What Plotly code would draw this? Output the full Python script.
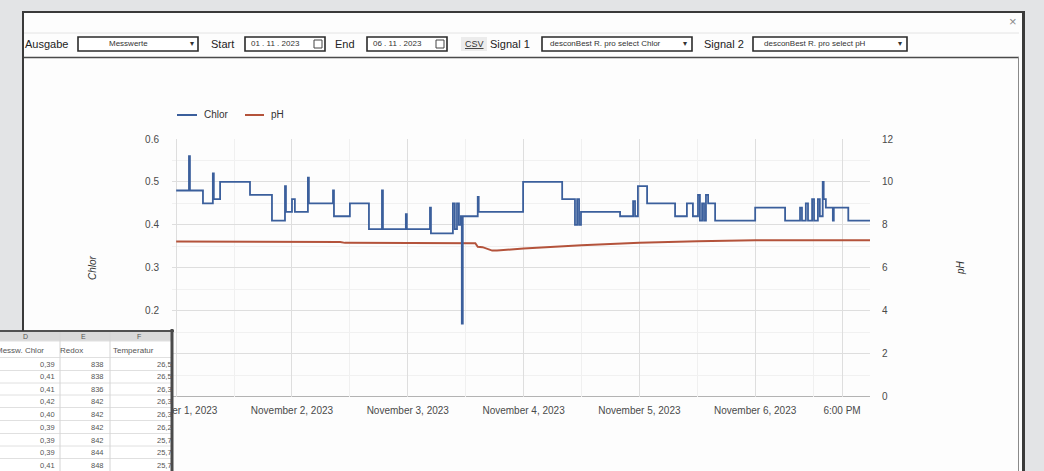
import plotly.graph_objects as go

# ---------------- data ----------------
chlor_time = [
    "2023-11-01 00:00", "2023-11-01 02:39", "2023-11-01 02:51", "2023-11-01 05:33",
    "2023-11-01 07:36", "2023-11-01 07:48", "2023-11-01 09:06", "2023-11-01 15:18",
    "2023-11-01 19:51", "2023-11-01 22:33", "2023-11-01 22:45", "2023-11-02 00:00",
    "2023-11-02 00:36", "2023-11-02 03:18", "2023-11-02 03:30", "2023-11-02 08:30",
    "2023-11-02 08:42", "2023-11-02 12:00", "2023-11-02 15:57", "2023-11-02 18:39",
    "2023-11-02 18:51", "2023-11-02 23:36", "2023-11-02 23:48", "2023-11-03 04:36",
    "2023-11-03 04:48", "2023-11-03 09:21", "2023-11-03 09:45", "2023-11-03 10:12",
    "2023-11-03 10:36", "2023-11-03 11:00", "2023-11-03 11:12", "2023-11-03 11:24",
    "2023-11-03 14:30", "2023-11-03 14:42", "2023-11-03 23:54", "2023-11-04 08:00",
    "2023-11-04 10:39", "2023-11-04 11:06", "2023-11-04 11:30", "2023-11-04 11:54",
    "2023-11-04 20:00", "2023-11-04 22:42", "2023-11-04 23:06", "2023-11-04 23:42",
    "2023-11-05 01:36", "2023-11-05 07:24", "2023-11-05 09:51", "2023-11-05 11:06",
    "2023-11-05 12:09", "2023-11-05 12:33", "2023-11-05 13:00", "2023-11-05 13:24",
    "2023-11-05 13:48", "2023-11-05 14:15", "2023-11-05 15:42", "2023-11-06 00:00",
    "2023-11-06 06:12", "2023-11-06 09:18", "2023-11-06 09:42", "2023-11-06 10:30",
    "2023-11-06 10:57", "2023-11-06 11:48", "2023-11-06 12:12", "2023-11-06 13:00",
    "2023-11-06 13:24", "2023-11-06 14:00", "2023-11-06 14:12", "2023-11-06 14:39",
    "2023-11-06 16:06", "2023-11-06 16:18", "2023-11-06 19:18", "2023-11-07 00:00",
]
chlor_value = [
    0.48, 0.56, 0.48, 0.45,
    0.52, 0.46, 0.50, 0.47,
    0.41, 0.49, 0.43, 0.46,
    0.43, 0.51, 0.45, 0.48,
    0.42, 0.45, 0.39, 0.48,
    0.39, 0.425, 0.39, 0.44,
    0.38, 0.45, 0.39, 0.45,
    0.40, 0.42, 0.17, 0.42,
    0.465, 0.43, 0.50, 0.46,
    0.40, 0.46, 0.40, 0.43,
    0.42, 0.455, 0.42, 0.49,
    0.45, 0.42, 0.45, 0.42,
    0.47, 0.41, 0.45, 0.41,
    0.47, 0.45, 0.41, 0.44,
    0.41, 0.44, 0.41, 0.45,
    0.41, 0.46, 0.41, 0.46,
    0.42, 0.50, 0.46, 0.44,
    0.41, 0.44, 0.41, 0.41,
]
ph_time = [
    "2023-11-01 00:00", "2023-11-02 10:00", "2023-11-02 11:00", "2023-11-03 12:30",
    "2023-11-03 14:00", "2023-11-03 14:30", "2023-11-03 15:30", "2023-11-03 17:30",
    "2023-11-03 18:30", "2023-11-04 00:00", "2023-11-04 12:00", "2023-11-05 00:00",
    "2023-11-05 12:00", "2023-11-06 00:00", "2023-11-07 00:00",
]
ph_value = [
    7.22, 7.20, 7.16, 7.16,
    7.14, 6.98, 6.96, 6.80,
    6.80, 6.90, 7.05, 7.16,
    7.24, 7.28, 7.28,
]

x_tick_vals = ["2023-11-01", "2023-11-02", "2023-11-03", "2023-11-04",
               "2023-11-05", "2023-11-06", "2023-11-06 18:00"]
x_tick_text = ["November 1, 2023", "November 2, 2023", "November 3, 2023",
               "November 4, 2023", "November 5, 2023", "November 6, 2023", "6:00 PM"]
x_minor_vals = ["2023-11-01 12:00", "2023-11-02 12:00", "2023-11-03 12:00",
                "2023-11-04 12:00", "2023-11-05 12:00", "2023-11-06 12:00"]
# 0 and 0.1 sit under the spreadsheet overlay in the picture, so their labels stay blank
chlor_ticks = [0, 0.1, 0.2, 0.3, 0.4, 0.5, 0.6]
chlor_tick_text = ["", "", "0.2", "0.3", "0.4", "0.5", "0.6"]
ph_ticks = [0, 2, 4, 6, 8, 10, 12]

sheet_letters = ["D", "E", "F"]
sheet_headers = ["Messw. Chlor", "Redox", "Temperatur"]
sheet_chlor = ["0,39", "0,41", "0,41", "0,42", "0,40", "0,39", "0,39", "0,39", "0,41"]
sheet_redox = ["838", "838", "836", "842", "842", "842", "842", "844", "848"]
sheet_temp = ["26,5", "26,5", "26,3", "26,3", "26,3", "26,2", "25,7", "25,7", "25,7"]

# ---------------- styling helpers ----------------
W, H = 1044, 471
FONT = "Liberation Sans, Arial, sans-serif"
BLUE = "#3b5f9c"
RED = "#b4533b"


def X(px):
    return px / W


def Y(py):
    return 1 - py / H


shapes = []
annotations = []


def rect(x0, y0, x1, y1, fill=None, line=None, lw=1, layer="below"):
    shapes.append(dict(type="rect", xref="paper", yref="paper",
                       x0=X(x0), x1=X(x1), y0=Y(y1), y1=Y(y0),
                       fillcolor=fill if fill else "rgba(0,0,0,0)",
                       line=dict(color=line if line else "rgba(0,0,0,0)", width=lw if line else 0),
                       layer=layer))


def hline(x0, x1, y, color, lw=1, layer="below"):
    shapes.append(dict(type="line", xref="paper", yref="paper",
                       x0=X(x0), x1=X(x1), y0=Y(y), y1=Y(y),
                       line=dict(color=color, width=lw), layer=layer))


def vline(x, y0, y1, color, lw=1, layer="below"):
    shapes.append(dict(type="line", xref="paper", yref="paper",
                       x0=X(x), x1=X(x), y0=Y(y0), y1=Y(y1),
                       line=dict(color=color, width=lw), layer=layer))


def text(x, y, s, size=11, color="#222", anchor="left", angle=0, italic=False):
    annotations.append(dict(xref="paper", yref="paper", x=X(x), y=Y(y), text=s,
                            showarrow=False, xanchor=anchor, yanchor="middle",
                            textangle=angle,
                            font=dict(family=FONT, size=size, color=color,
                                      style="italic" if italic else "normal")))


# ---------------- dialog frame ----------------
rect(23, 12, 1023, 480, fill="#fdfdfd")
hline(23, 1019, 33, "#e4e4e4", 1)
hline(23, 1019, 57.5, "#4a4a4a", 1.5)
hline(22, 1025, 12, "#3a3a3a", 2)
vline(23, 12, 480, "#3a3a3a", 2)
vline(1018.5, 57, 480, "#8a8a8a", 1)
vline(1023.5, 11, 480, "#3a3a3a", 3)
text(1013, 22, "×", size=13, color="#8a8a8a", anchor="center")

# toolbar
TY = 44
text(23, TY, "Ausgabe", 11)
rect(78, 37, 198, 51, fill="#ffffff", line="#2a2a2a", lw=1.6)
text(128, TY, "Messwerte", 8, "#333", "center")
text(192, TY, "▾", 8, "#333", "center")
text(209, TY, "Start", 11)
rect(245, 37, 325, 51, fill="#ffffff", line="#2a2a2a", lw=1.6)
text(249, TY, "01 . 11 . 2023", 8, "#333")
rect(314, 40, 322, 48, line="#444", lw=1)
text(333, TY, "End", 11)
rect(367, 37, 447, 51, fill="#ffffff", line="#2a2a2a", lw=1.6)
text(371, TY, "06 . 11 . 2023", 8, "#333")
rect(436, 40, 444, 48, line="#444", lw=1)
rect(461, 37, 487, 51, fill="#ececec")
text(474, TY, "<u>CSV</u>", 9, "#333", "center")
text(488, TY, "Signal 1", 11)
rect(542, 37, 692, 51, fill="#ffffff", line="#2a2a2a", lw=1.6)
text(548, TY, "desconBest R. pro select Chlor", 8, "#333")
text(685, TY, "▾", 8, "#333", "center")
text(702, TY, "Signal 2", 11)
rect(753, 37, 907, 51, fill="#ffffff", line="#2a2a2a", lw=1.6)
text(762, TY, "desconBest R. pro select pH", 8, "#333")
text(900, TY, "▾", 8, "#333", "center")

# ---------------- chart legend & axis titles ----------------
hline(177, 197, 115, BLUE, 2)
text(202, 115, "Chlor", 10, "#333")
hline(245, 264, 115, RED, 2)
text(269, 115, "pH", 10, "#333")
text(92, 268, "Chlor", 10, "#333", "center", angle=-90, italic=True)
text(960, 268, "pH", 10, "#333", "center", angle=-90, italic=True)

# zero baseline
shapes.append(dict(type="line", xref="x domain", yref="y", x0=0, x1=1, y0=0, y1=0,
                   line=dict(color="#6a6a6a", width=1), layer="below"))

# ---------------- spreadsheet overlay (bottom-left) ----------------
SL = "above"
rect(-2, 330, 173, 480, fill="#ffffff", layer=SL)
rect(-2, 332, 172, 341, fill="#d9d9d9", layer=SL)
row_y = [364, 376.5, 389, 401, 414, 427, 440, 452, 465]
for yb in [341, 357.5, 370.5, 383, 395, 407.5, 420.5, 433.5, 446, 458.5]:
    hline(-2, 171, yb, "#e0e0e0", 1, layer=SL)
vline(60, 332, 480, "#d4d4d4", 1, layer=SL)
vline(110, 332, 480, "#d4d4d4", 1, layer=SL)
hline(-2, 174, 331, "#505050", 2, layer=SL)
vline(172, 329, 480, "#4a4a4a", 3, layer=SL)
vline(23, 320, 331, "#3a3a3a", 2, layer=SL)

for cx, s in zip([25, 83, 139], sheet_letters):
    text(cx, 336.5, s, 7, "#555", "center")
text(46, 350, sheet_headers[0], 8, "#555", "right")
text(58, 350, sheet_headers[1], 8, "#555", "left")
text(111, 350, sheet_headers[2], 8, "#555", "left")
for ry, a, b, c in zip(row_y, sheet_chlor, sheet_redox, sheet_temp):
    text(57, ry, a, 7.5, "#555", "right")
    text(106, ry, b, 7.5, "#555", "right")
    text(174, ry, c, 7.5, "#555", "right")

# ---------------- figure ----------------
fig = go.Figure()
fig.add_trace(go.Scatter(x=ph_time, y=ph_value, yaxis="y", mode="lines", name="pH",
                         line=dict(color=RED, width=2), showlegend=False,
                         hoverinfo="skip"))
fig.add_trace(go.Scatter(x=chlor_time, y=chlor_value, yaxis="y2", mode="lines", name="Chlor",
                         line=dict(color=BLUE, width=1.8, shape="hv"), showlegend=False,
                         hoverinfo="skip"))

tick_font = dict(family=FONT, size=10, color="#4a4a4a")
fig.update_layout(
    width=W, height=H,
    margin=dict(l=0, r=0, t=0, b=0, pad=0, autoexpand=False),
    paper_bgcolor="#e3e4e6",
    plot_bgcolor="rgba(0,0,0,0)",
    showlegend=False,
    xaxis=dict(domain=[X(172), X(870)], type="date", automargin=False,
               range=["2023-10-31 23:08", "2023-11-06 23:48"],
               tickmode="array", tickvals=x_tick_vals, ticktext=x_tick_text,
               showgrid=True, gridcolor="#dedede", gridwidth=1,
               minor=dict(tickvals=x_minor_vals, showgrid=True, gridcolor="#f0f0f0"),
               zeroline=False, showline=False, ticks="",
               tickfont=tick_font, ticklabelstandoff=6, fixedrange=True),
    yaxis=dict(domain=[Y(396.5), Y(139)], side="right", range=[0, 12], automargin=False,
               tickmode="array", tickvals=ph_ticks,
               showgrid=True, gridcolor="#dedede",
               minor=dict(dtick=1, showgrid=True, gridcolor="#f1f1f1"),
               zeroline=False, showline=False, ticks="",
               tickfont=tick_font, ticklabelstandoff=11, fixedrange=True),
    yaxis2=dict(overlaying="y", side="left", anchor="x", range=[0, 0.6], automargin=False,
                tickmode="array", tickvals=chlor_ticks, ticktext=chlor_tick_text,
                showgrid=False, zeroline=False, showline=False, ticks="",
                tickfont=tick_font, ticklabelstandoff=12, fixedrange=True),
    shapes=shapes,
    annotations=annotations,
)

fig.write_html("out.html", config={"displayModeBar": False},
               post_script="document.body.style.margin='0';document.body.style.overflow='hidden';")
